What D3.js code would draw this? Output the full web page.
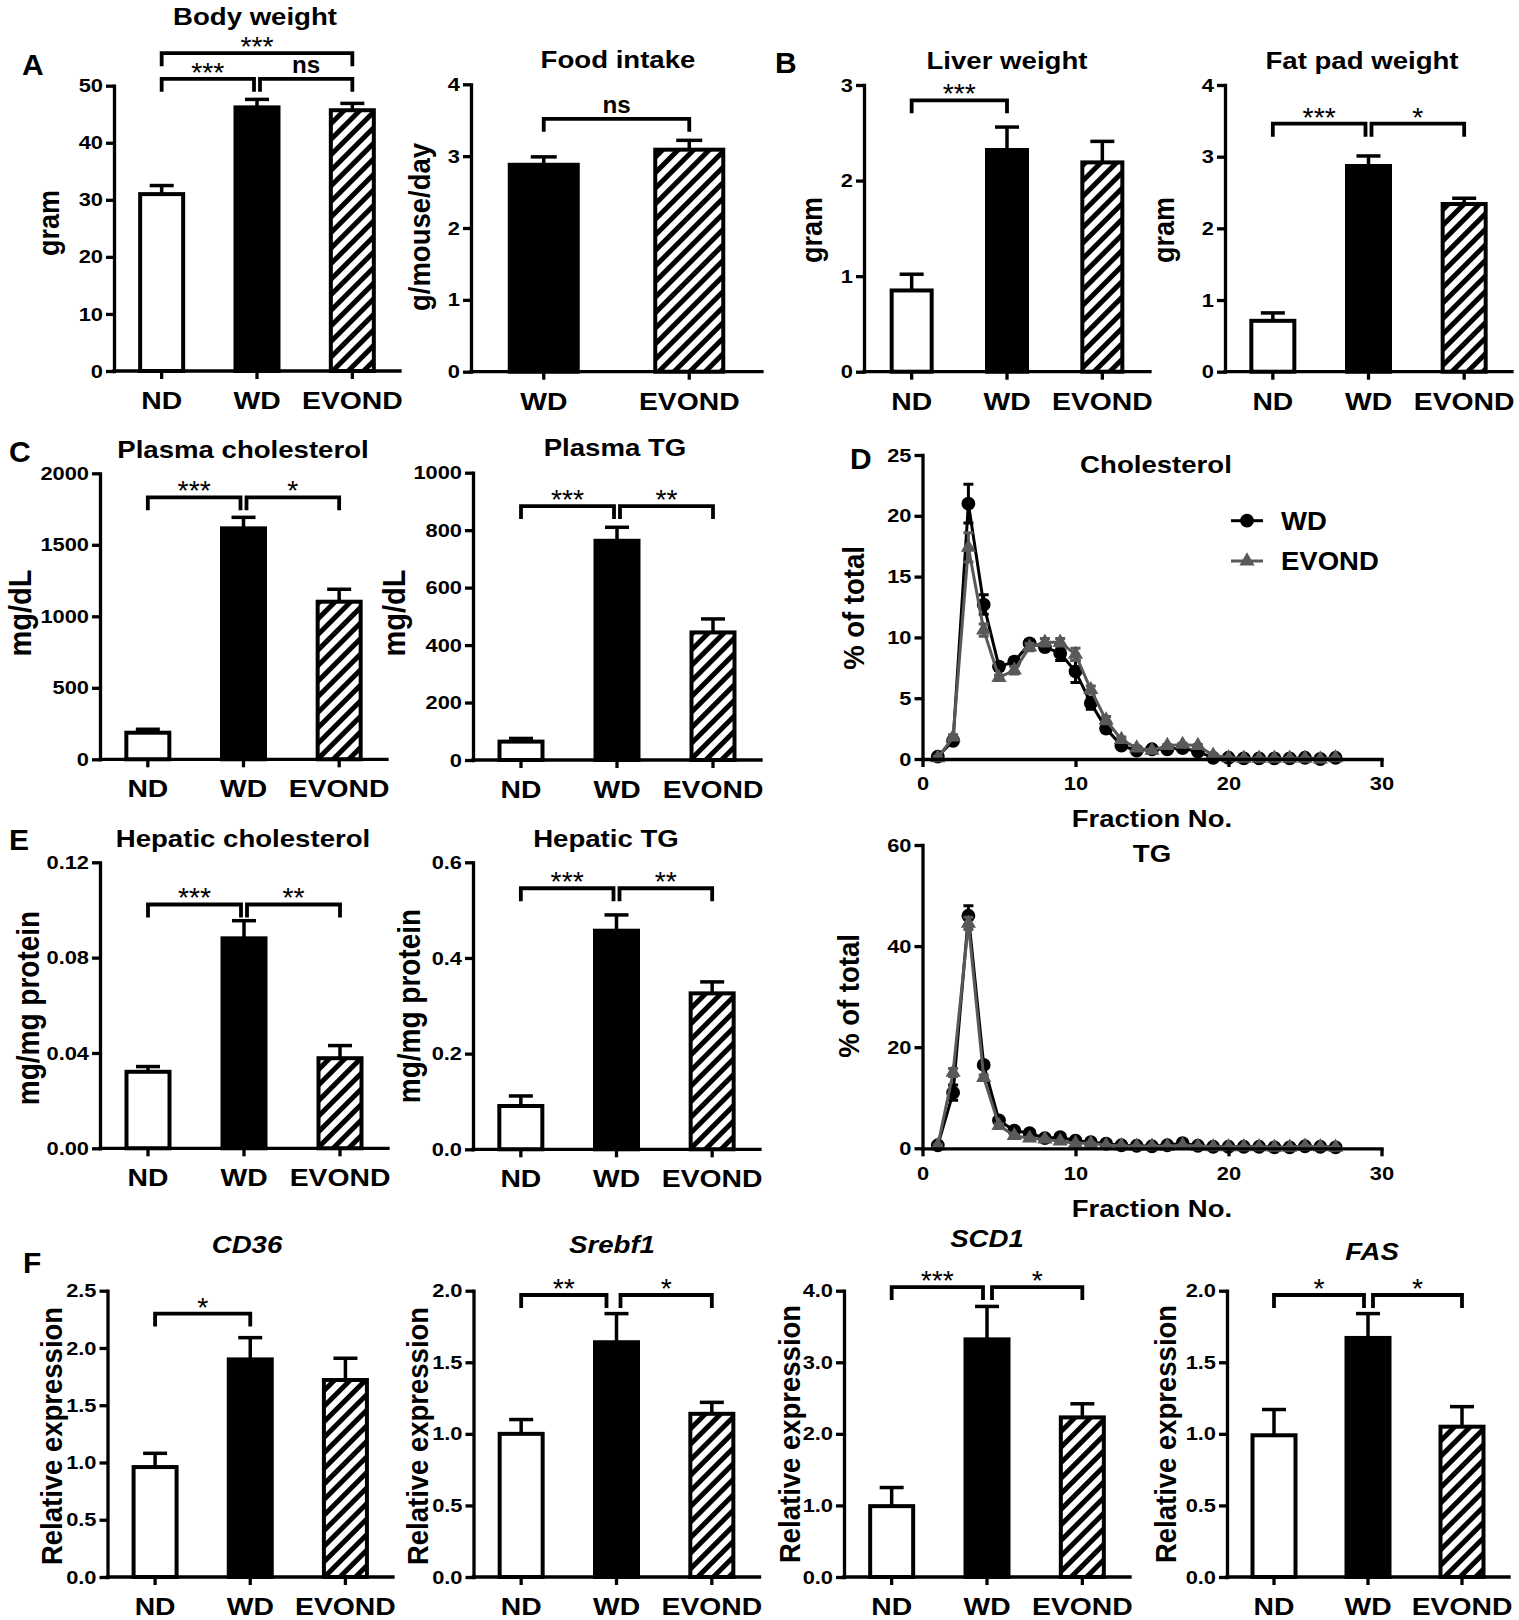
<!DOCTYPE html>
<html><head><meta charset="utf-8">
<script src="https://cdn.jsdelivr.net/npm/d3@7"></script>
<style>
body{margin:0;background:#fff}
svg text{font-family:"Liberation Sans",Arial,Helvetica,sans-serif;}
</style>
</head><body>
<svg id="fig" width="1519" height="1620"></svg>
<script>
// ---------------- DATA ----------------
const groups = ["ND", "WD", "EVOND"];
const foodGroups = ["WD", "EVOND"];

const bodyWeight = [31.0, 46.2, 45.7];
const bodyWeightErr = [1.5, 1.4, 1.2];
const foodIntake = [2.88, 3.09];
const foodIntakeErr = [0.11, 0.13];
const liverWeight = [0.85, 2.32, 2.19];
const liverWeightErr = [0.17, 0.24, 0.22];
const fatPadWeight = [0.71, 2.87, 2.34];
const fatPadWeightErr = [0.11, 0.14, 0.08];
const plasmaChol = [186, 1615, 1102];
const plasmaCholErr = [24, 77, 87];
const plasmaTG = [64, 763, 444];
const plasmaTGErr = [11, 47, 47];
const hepaticChol = [0.0321, 0.0881, 0.0378];
const hepaticCholErr = [0.0022, 0.0074, 0.0053];
const hepaticTG = [0.0905, 0.457, 0.326];
const hepaticTGErr = [0.021, 0.033, 0.024];
const cd36 = [0.96, 1.90, 1.72];
const cd36Err = [0.12, 0.19, 0.19];
const srebf1 = [1.00, 1.64, 1.14];
const srebf1Err = [0.10, 0.20, 0.08];
const scd1 = [0.99, 3.32, 2.23];
const scd1Err = [0.26, 0.46, 0.19];
const fas = [0.99, 1.67, 1.05];
const fasErr = [0.18, 0.17, 0.14];

const fractionNo = [1,2,3,4,5,6,7,8,9,10,11,12,13,14,15,16,17,18,19,20,21,22,23,24,25,26,27];
const cholWD     = [0.2,1.5,21.0,12.7,7.6,8.0,9.5,9.2,8.7,7.2,4.6,2.5,1.1,0.7,0.8,0.8,0.9,0.6,0.1,0.1,0.05,0.05,0.05,0.05,0.1,0.0,0.1];
const cholWDErr  = [0.1,0.2,1.6,0.8,0.3,0.3,0.3,0.3,0.6,0.9,0.5,0.3,0.2,0.1,0.1,0.1,0.1,0.1,0.05,0.05,0.05,0.05,0.05,0.05,0.05,0.05,0.05];
const cholEV     = [0.1,1.8,17.4,10.6,6.7,7.3,9.2,9.6,9.6,8.6,5.7,3.2,1.6,0.9,0.7,1.1,1.2,1.1,0.3,0.1,0.05,0.05,0.05,0.05,0.05,0.0,0.1];
const cholEVErr  = [0.1,0.2,1.2,0.5,0.2,0.3,0.3,0.3,0.3,0.5,0.3,0.3,0.2,0.1,0.1,0.1,0.1,0.1,0.05,0.05,0.05,0.05,0.05,0.05,0.05,0.05,0.05];
const tgWD       = [0.6,11.0,46.0,16.5,5.5,3.5,3.0,2.0,2.2,1.5,1.2,0.9,0.6,0.5,0.4,0.6,1.0,0.5,0.3,0.3,0.3,0.3,0.2,0.2,0.4,0.3,0.2];
const tgWDErr    = [0.2,1.5,2.0,0.6,0.5,0.3,0.3,0.2,0.2,0.2,0.1,0.1,0.1,0.1,0.1,0.1,0.1,0.1,0.1,0.1,0.1,0.1,0.1,0.1,0.1,0.1,0.1];
const tgEV       = [0.5,15.0,44.5,14.0,4.5,2.5,2.0,1.8,1.4,1.0,1.0,0.6,0.5,0.4,0.4,0.4,0.6,0.4,0.3,0.3,0.3,0.3,0.2,0.2,0.4,0.3,0.2];
const tgEVErr    = [0.2,0.8,1.2,0.5,0.3,0.2,0.2,0.2,0.1,0.1,0.1,0.1,0.1,0.1,0.1,0.1,0.1,0.1,0.1,0.1,0.1,0.1,0.1,0.1,0.1,0.1,0.1];

const ticksBody = [0,10,20,30,40,50];
const ticks0to4 = [0,1,2,3,4];
const ticks0to3 = [0,1,2,3];
const ticksPC = [0,500,1000,1500,2000];
const ticksPTG = [0,200,400,600,800,1000];
const ticksHC = [0,0.04,0.08,0.12];
const ticksHTG = [0,0.2,0.4,0.6];
const ticksCD36 = [0,0.5,1.0,1.5,2.0,2.5];
const ticks0to2 = [0,0.5,1.0,1.5,2.0];
const ticksSCD1 = [0,1,2,3,4];
const ticksCholPct = [0,5,10,15,20,25];
const ticksTGPct = [0,20,40,60];
const ticksFraction = [0,10,20,30];

// ---------------- DRAWING ----------------
const svg = d3.select("#fig");
svg.append("rect").attr("width",1519).attr("height",1620).attr("fill","#fff");
const SX = 1.2;
const TICK_FONT = 19, TICK_SX = 1.15;
const FILL = {ND:"#fff", WD:"#000", EVOND:"url(#hatch)"};
const GREY = "#595959";

const defs = svg.append("defs");
const pat = defs.append("pattern").attr("id","hatch").attr("patternUnits","userSpaceOnUse")
  .attr("width",11).attr("height",11).attr("patternTransform","rotate(45)");
pat.append("rect").attr("width",11).attr("height",11).attr("fill","#fff");
pat.append("rect").attr("width",5).attr("height",11).attr("fill","#000");

function stretch(sel, sx){
  sel.each(function(){
    const t = d3.select(this);
    const x = +t.attr("x") || 0;
    t.attr("transform", `translate(${x*(1-sx)},0) scale(${sx},1)`);
  });
}
function addText(g, x, y, str, o){
  o = o || {};
  const t = g.append("text").attr("x",x).attr("y",y).text(str)
    .attr("font-size",o.size||23).attr("font-weight",o.weight||"bold")
    .attr("font-style",o.style||"normal").attr("text-anchor",o.anchor||"middle").attr("fill","#000");
  stretch(t, o.sx===undefined ? SX : o.sx);
  return t;
}
function addVText(g, cx, cy, str, size){
  g.append("text").attr("transform",`translate(${cx},${cy}) scale(1.1,1) rotate(-90)`)
    .attr("text-anchor","middle").attr("dominant-baseline","central")
    .attr("font-size",size).attr("font-weight","bold").text(str);
}
function styleAxis(ag, size, sx){
  ag.attr("font-family",'"Liberation Sans",Arial,sans-serif').attr("font-size",size).attr("font-weight","bold");
  ag.selectAll("line").attr("stroke","#000").attr("stroke-width",3.3);
  ag.selectAll("path.domain").attr("stroke","#000").attr("stroke-width",3.3).attr("stroke-linecap","square");
  ag.selectAll("text").attr("fill","#000");
  stretch(ag.selectAll("text"), sx);
}

function barChart(c){
  const g = svg.append("g");
  const y = d3.scaleLinear().domain([0,c.max]).range([c.y0,c.y1]);
  const n = c.cats.length;
  const step = (c.x1-c.x0)/n;
  const p = 1 - c.barW/step;
  const x = d3.scaleBand().domain(c.cats).range([c.x0,c.x1]).paddingInner(p).paddingOuter(p/2);
  const rows = c.cats.map((k,i)=>({k, v:c.values[i], e:c.errs[i]}));
  const cx = k => x(k)+x.bandwidth()/2;

  // error bars (upper only)
  const cap = c.cap || 24;
  g.selectAll("line.err").data(rows).join("line")
    .attr("x1",d=>cx(d.k)).attr("x2",d=>cx(d.k)).attr("y1",d=>y(d.v)).attr("y2",d=>y(d.v+d.e))
    .attr("stroke","#000").attr("stroke-width",3.5);
  g.selectAll("line.cap").data(rows).join("line")
    .attr("x1",d=>cx(d.k)-cap/2).attr("x2",d=>cx(d.k)+cap/2).attr("y1",d=>y(d.v+d.e)).attr("y2",d=>y(d.v+d.e))
    .attr("stroke","#000").attr("stroke-width",3.5);
  // bars
  g.selectAll("rect.bar").data(rows).join("rect")
    .attr("x",d=>x(d.k)).attr("width",x.bandwidth())
    .attr("y",d=>y(d.v)).attr("height",d=>y(0)-y(d.v))
    .attr("fill",d=>FILL[d.k]).attr("stroke","#000").attr("stroke-width",4);

  // y axis
  const ya = d3.axisLeft(y).tickValues(c.ticks).tickFormat(c.fmt||(d=>d)).tickSize(8).tickSizeOuter(0).tickPadding(3);
  const yg = g.append("g").attr("transform",`translate(${c.x0},0)`).call(ya);
  styleAxis(yg, TICK_FONT, TICK_SX);
  // x axis
  g.append("line").attr("x1",c.x0).attr("x2",c.x1).attr("y1",y(0)).attr("y2",y(0))
    .attr("stroke","#000").attr("stroke-width",3.3).attr("stroke-linecap","square");
  const xa = d3.axisBottom(x).tickSize(8).tickSizeOuter(0).tickPadding(13);
  const xg = g.append("g").attr("transform",`translate(0,${y(0)})`).call(xa);
  xg.select(".domain").remove();
  styleAxis(xg, 24, 1.18);

  // brackets
  (c.brackets||[]).forEach(b=>{
    const xa1 = cx(b.a) + (b.da||0), xb1 = cx(b.b) + (b.db||0), yy = y(b.at);
    g.append("path").attr("d",`M${xa1},${yy+13}V${yy}H${xb1}V${yy+13}`)
      .attr("fill","none").attr("stroke","#000").attr("stroke-width",3.8).attr("stroke-linejoin","miter");
    const mx = (xa1+xb1)/2;
    if (b.label === "ns") addText(g, mx, yy-6, b.label, {size:23, sx:1.05});
    else addText(g, mx, yy+3, b.label, {size:27, weight:"normal", sx:1.05});
  });

  addText(g, c.titleX, c.titleY, c.title, {size:23, style:c.italic?"italic":"normal"});
  addVText(g, c.ylabX, c.ylabY, c.ylab, c.ylabSize||26);
}

function lineChart(c){
  const g = svg.append("g");
  const x = d3.scaleLinear().domain([0,30]).range([922.5,1381.5]);
  const y = d3.scaleLinear().domain([0,c.max]).range([c.y0,c.y1]);
  const series = [
    {v:c.wd, e:c.wdErr, color:"#000", sym:d3.symbolCircle, size:150},
    {v:c.ev, e:c.evErr, color:GREY, sym:d3.symbolTriangle, size:100}
  ];
  series.forEach(s=>{
    const pts = fractionNo.map((f,i)=>({f, v:s.v[i], e:s.e[i]}));
    g.append("g").selectAll("path").data(pts).join("path")
      .attr("d",d=>`M${x(d.f)},${y(d.v-d.e)}V${y(d.v+d.e)}M${x(d.f)-5},${y(d.v-d.e)}H${x(d.f)+5}M${x(d.f)-5},${y(d.v+d.e)}H${x(d.f)+5}`)
      .attr("stroke",s.color).attr("stroke-width",3).attr("fill","none");
    g.append("path").datum(pts).attr("d",d3.line().x(d=>x(d.f)).y(d=>y(d.v)))
      .attr("fill","none").attr("stroke",s.color).attr("stroke-width",3);
    g.append("g").selectAll("path").data(pts).join("path")
      .attr("transform",d=>`translate(${x(d.f)},${y(d.v)})`)
      .attr("d",d3.symbol().type(s.sym).size(s.size)).attr("fill",s.color);
  });
  const ya = d3.axisLeft(y).tickValues(c.ticks).tickSize(8).tickSizeOuter(0).tickPadding(3);
  const yg = g.append("g").attr("transform",`translate(${x(0)},0)`).call(ya);
  styleAxis(yg, TICK_FONT, TICK_SX);
  const xa = d3.axisBottom(x).tickValues(ticksFraction).tickSize(8).tickSizeOuter(0).tickPadding(10);
  const xg = g.append("g").attr("transform",`translate(0,${y(0)})`).call(xa);
  styleAxis(xg, TICK_FONT, TICK_SX);

  addText(g, c.titleX, c.titleY, c.title, {size:23});
  addText(g, 1152, c.xlabY, "Fraction No.", {size:23.5, sx:1.17});
  addVText(g, c.ylabX, c.ylabY, "% of total", 27.5);

  if (c.legend){
    const items = [{name:"WD", color:"#000", sym:d3.symbolCircle, size:150, y:520.7},
                   {name:"EVOND", color:GREY, sym:d3.symbolTriangle, size:100, y:561}];
    items.forEach(it=>{
      g.append("line").attr("x1",1231).attr("x2",1263).attr("y1",it.y).attr("y2",it.y)
        .attr("stroke",it.color).attr("stroke-width",3);
      g.append("path").attr("transform",`translate(1247,${it.y})`)
        .attr("d",d3.symbol().type(it.sym).size(it.size)).attr("fill",it.color);
      addText(g, 1281, it.y+9, it.name, {size:25, anchor:"start", sx:1.1});
    });
  }
}

// Panel letters
[["A",22,75],["B",775,73],["C",9,462],["D",850,469],["E",9,850],["F",23,1273]].forEach(([l,x,y])=>{
  addText(svg, x, y, l, {size:30, anchor:"start", sx:1.0});
});

// Row 1
barChart({cats:groups, values:bodyWeight, errs:bodyWeightErr, x0:114, x1:400, barW:43, y0:371, y1:85.7, max:50, ticks:ticksBody,
  title:"Body weight", titleX:255, titleY:25, ylab:"gram", ylabX:49, ylabY:223, ylabSize:27,
  brackets:[{a:"ND",b:"WD",label:"***",at:51.2,db:-3},{a:"WD",b:"EVOND",label:"ns",at:51.2,da:3},{a:"ND",b:"EVOND",label:"***",at:55.7}]});
barChart({cats:foodGroups, values:foodIntake, errs:foodIntakeErr, x0:471, x1:762, barW:68, cap:26, y0:371.7, y1:84.3, max:4, ticks:ticks0to4,
  title:"Food intake", titleX:618, titleY:68, ylab:"g/mouse/day", ylabX:420, ylabY:227, ylabSize:27.5,
  brackets:[{a:"WD",b:"EVOND",label:"ns",at:3.52}]});
barChart({cats:groups, values:liverWeight, errs:liverWeightErr, x0:864, x1:1150, barW:40, y0:371.7, y1:85, max:3, ticks:ticks0to3,
  title:"Liver weight", titleX:1007, titleY:69, ylab:"gram", ylabX:812, ylabY:230, ylabSize:27,
  brackets:[{a:"ND",b:"WD",label:"***",at:2.84}]});
barChart({cats:groups, values:fatPadWeight, errs:fatPadWeightErr, x0:1225, x1:1512, barW:43, y0:371.7, y1:85, max:4, ticks:ticks0to4,
  title:"Fat pad weight", titleX:1362, titleY:69, ylab:"gram", ylabX:1164, ylabY:230, ylabSize:27,
  brackets:[{a:"ND",b:"WD",label:"***",at:3.46,db:-3},{a:"WD",b:"EVOND",label:"*",at:3.46,da:3}]});

// Row 2
barChart({cats:groups, values:plasmaChol, errs:plasmaCholErr, x0:100, x1:387, barW:43, y0:759.3, y1:473.3, max:2000, ticks:ticksPC,
  title:"Plasma cholesterol", titleX:243, titleY:458, ylab:"mg/dL", ylabX:19, ylabY:613, ylabSize:29,
  brackets:[{a:"ND",b:"WD",label:"***",at:1832,db:-3},{a:"WD",b:"EVOND",label:"*",at:1832,da:3}]});
barChart({cats:groups, values:plasmaTG, errs:plasmaTGErr, x0:473, x1:761, barW:43, y0:760, y1:472.7, max:1000, ticks:ticksPTG,
  title:"Plasma TG", titleX:615, titleY:456, ylab:"mg/dL", ylabX:393, ylabY:613, ylabSize:29,
  brackets:[{a:"ND",b:"WD",label:"***",at:884,db:-3},{a:"WD",b:"EVOND",label:"**",at:884,da:3}]});

// Row 3
barChart({cats:groups, values:hepaticChol, errs:hepaticCholErr, x0:100, x1:388, barW:43, y0:1148.3, y1:862.3, max:0.12, ticks:ticksHC, fmt:d3.format(".2f"),
  title:"Hepatic cholesterol", titleX:243, titleY:847, ylab:"mg/mg protein", ylabX:28, ylabY:1008, ylabSize:28,
  brackets:[{a:"ND",b:"WD",label:"***",at:0.1023,db:-3},{a:"WD",b:"EVOND",label:"**",at:0.1023,da:3}]});
barChart({cats:groups, values:hepaticTG, errs:hepaticTGErr, x0:473, x1:760, barW:43, y0:1149.3, y1:862.3, max:0.6, ticks:ticksHTG, fmt:d3.format(".1f"),
  title:"Hepatic TG", titleX:606, titleY:847, ylab:"mg/mg protein", ylabX:409, ylabY:1006, ylabSize:28,
  brackets:[{a:"ND",b:"WD",label:"***",at:0.5457,db:-3},{a:"WD",b:"EVOND",label:"**",at:0.5457,da:3}]});

// Panel D
lineChart({wd:cholWD, wdErr:cholWDErr, ev:cholEV, evErr:cholEVErr, max:25, y0:759, y1:455, ticks:ticksCholPct,
  title:"Cholesterol", titleX:1156, titleY:473, xlabY:827, ylabX:854, ylabY:608, legend:true});
lineChart({wd:tgWD, wdErr:tgWDErr, ev:tgEV, evErr:tgEVErr, max:60, y0:1148.3, y1:845, ticks:ticksTGPct,
  title:"TG", titleX:1152, titleY:862, xlabY:1217, ylabX:849, ylabY:996, legend:false});

// Panel F
const f1 = d3.format(".1f");
barChart({cats:groups, values:cd36, errs:cd36Err, x0:107.5, x1:393, barW:43, y0:1577, y1:1290.7, max:2.5, ticks:ticksCD36, fmt:f1,
  title:"CD36", italic:true, titleX:247, titleY:1253, ylab:"Relative expression", ylabX:52, ylabY:1436, ylabSize:27.5,
  brackets:[{a:"ND",b:"WD",label:"*",at:2.30}]});
barChart({cats:groups, values:srebf1, errs:srebf1Err, x0:473.5, x1:759.5, barW:43, y0:1577, y1:1290.7, max:2.0, ticks:ticks0to2, fmt:f1,
  title:"Srebf1", italic:true, titleX:612, titleY:1253, ylab:"Relative expression", ylabX:418, ylabY:1436, ylabSize:27.5,
  brackets:[{a:"ND",b:"WD",label:"**",at:1.97,db:-10},{a:"WD",b:"EVOND",label:"*",at:1.97,da:4}]});
barChart({cats:groups, values:scd1, errs:scd1Err, x0:844, x1:1130, barW:43, y0:1577, y1:1290.7, max:4, ticks:ticksSCD1, fmt:f1,
  title:"SCD1", italic:true, titleX:987, titleY:1247, ylab:"Relative expression", ylabX:790, ylabY:1434, ylabSize:27.5,
  brackets:[{a:"ND",b:"WD",label:"***",at:4.05,db:-4},{a:"WD",b:"EVOND",label:"*",at:4.05,da:5}]});
barChart({cats:groups, values:fas, errs:fasErr, x0:1227, x1:1509, barW:43, y0:1577, y1:1290.7, max:2.0, ticks:ticks0to2, fmt:f1,
  title:"FAS", italic:true, titleX:1372, titleY:1260, ylab:"Relative expression", ylabX:1166, ylabY:1434, ylabSize:27.5,
  brackets:[{a:"ND",b:"WD",label:"*",at:1.97,db:-4},{a:"WD",b:"EVOND",label:"*",at:1.97,da:5}]});
</script>
</body></html>
